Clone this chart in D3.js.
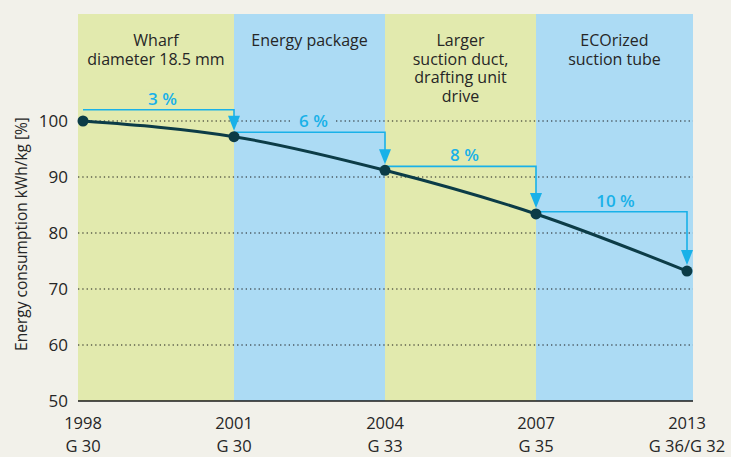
<!DOCTYPE html>
<html>
<head>
<meta charset="utf-8">
<script src="https://cdn.jsdelivr.net/npm/d3@7"></script>
<style>
  html, body { margin: 0; padding: 0; background: #f2f1ea; }
  svg { display: block; }
  text { font-family: "Open Sans", "Noto Sans", sans-serif; }
</style>
</head>
<body>
<svg id="chart" width="731" height="457"></svg>
<script>
// ---- data ----
const years = ["1998", "2001", "2004", "2007", "2013"];
const machines = ["G 30", "G 30", "G 33", "G 35", "G 36/G 32"];
const consumption = [100, 97.2, 91.2, 83.4, 73.2];
const stepLabels = ["3 %", "6 %", "8 %", "10 %"];
const bracketLevels = [102, 98, 91.9, 83.8];
const phaseTitles = [
  ["Wharf", "diameter 18.5 mm"],
  ["Energy package"],
  ["Larger", "suction duct,", "drafting unit", "drive"],
  ["ECOrized", "suction tube"]
];
const yTicks = [50, 60, 70, 80, 90, 100];

// ---- layout ----
const plot = { left: 78, right: 693, top: 14, bottom: 401 };
const bandColors = ["#e2eaae", "#acdbf4", "#e2eaae", "#acdbf4"];
const lineColor = "#0c3c47";
const accent = "#19b1e8";
const textColor = "#262626";

const svg = d3.select("#chart");

const x = d3.scalePoint().domain(years).range([83, 687]);
const y = d3.scaleLinear().domain([50, 100]).range([plot.bottom, 121]);

// bands
const bandEdges = years.slice(0, 4).map((yr, i) => ({
  x0: i === 0 ? plot.left : x(years[i]),
  x1: i === 3 ? plot.right : x(years[i + 1]),
  i
}));
svg.append("g").selectAll("rect").data(bandEdges).join("rect")
  .attr("x", d => d.x0).attr("y", plot.top)
  .attr("width", d => d.x1 - d.x0).attr("height", plot.bottom - plot.top)
  .attr("fill", d => bandColors[d.i]);

// phase titles
const titles = svg.append("g");
bandEdges.forEach(b => {
  phaseTitles[b.i].forEach((line, j) => {
    titles.append("text")
      .attr("x", (b.x0 + b.x1) / 2).attr("y", 46 + j * 18.5)
      .attr("text-anchor", "middle")
      .attr("font-size", 16).attr("fill", textColor).text(line);
  });
});

// gridlines
svg.append("g").selectAll("line").data(yTicks.filter(v => v > 50)).join("line")
  .attr("x1", plot.left).attr("x2", plot.right)
  .attr("y1", d => y(d)).attr("y2", d => y(d))
  .attr("stroke", "#1a1a1a").attr("stroke-width", 1.2)
  .attr("stroke-dasharray", "1.3,3");

// y axis (labels only)
const yAxis = d3.axisLeft(y).tickValues(yTicks).tickSize(0).tickPadding(10);
const gy = svg.append("g").attr("transform", `translate(${plot.left},0)`).call(yAxis);
gy.select(".domain").remove();
gy.selectAll("text").attr("font-size", 17).attr("fill", textColor)
  .attr("font-family", "'Open Sans', sans-serif").attr("dy", "0.35em");

// x axis line
svg.append("line")
  .attr("x1", plot.left).attr("x2", plot.right)
  .attr("y1", plot.bottom).attr("y2", plot.bottom)
  .attr("stroke", "#1a1a1a").attr("stroke-width", 1.5);

// x labels
const gx = svg.append("g");
years.forEach((yr, i) => {
  gx.append("text").attr("x", x(yr)).attr("y", 429)
    .attr("text-anchor", "middle").attr("font-size", 16.5).attr("fill", textColor).text(yr);
  gx.append("text").attr("x", x(yr)).attr("y", 452)
    .attr("text-anchor", "middle").attr("font-size", 16.5).attr("fill", textColor).text(machines[i]);
});

// y title
svg.append("text")
  .attr("transform", `translate(27,${(115 + 353) / 2}) rotate(-90)`)
  .attr("text-anchor", "middle").attr("font-size", 15.5).attr("fill", textColor)
  .text("Energy consumption kWh/kg [%]");

// brackets + arrows
const br = svg.append("g");
stepLabels.forEach((lab, i) => {
  const xa = x(years[i]), xb = x(years[i + 1]);
  const yb = y(bracketLevels[i]);
  const tip = y(consumption[i + 1]) - 6;
  const headH = 15, headW = 6;
  const tx = (xa + xb) / 2 + 4;
  br.append("rect").attr("x", tx - 22).attr("y", yb - 20).attr("width", 44).attr("height", 14)
    .attr("fill", bandColors[i]);
  br.append("text").attr("x", tx).attr("y", yb - 5)
    .attr("text-anchor", "middle").attr("font-size", 17).attr("font-weight", 600)
    .attr("fill", accent).text(lab);
  br.append("path")
    .attr("d", `M${xa},${yb}H${xb}V${tip - headH + 1}`)
    .attr("fill", "none").attr("stroke", accent).attr("stroke-width", 1.6);
  br.append("path")
    .attr("d", `M${xb - headW},${tip - headH}L${xb + headW},${tip - headH}L${xb},${tip}Z`)
    .attr("fill", accent);
});

// line
const pts = years.map((yr, i) => [x(yr), y(consumption[i])]);
svg.append("path")
  .attr("d", d3.line().curve(d3.curveMonotoneX)(pts))
  .attr("fill", "none").attr("stroke", lineColor).attr("stroke-width", 3);

svg.append("g").selectAll("circle").data(pts).join("circle")
  .attr("cx", d => d[0]).attr("cy", d => d[1]).attr("r", 5.5)
  .attr("fill", lineColor);
</script>
</body>
</html>
